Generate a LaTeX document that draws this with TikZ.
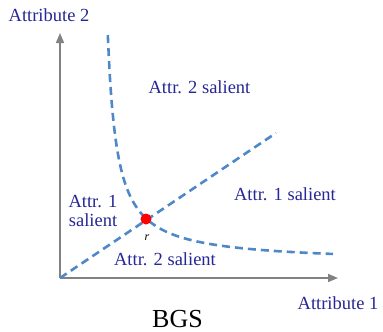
\documentclass[tikz,border=0pt]{standalone}
\usepackage{fontspec}
\setmainfont{Liberation Serif}
\usetikzlibrary{arrows.meta}
\definecolor{txtblue}{RGB}{38,38,150}
\definecolor{dashblue}{RGB}{78,136,200}
\definecolor{axisgray}{RGB}{130,130,130}
\tikzset{
  lbl/.style={text=txtblue, font=\fontsize{18.5}{19}\selectfont, inner sep=0pt, align=center},
  axisline/.style={draw=axisgray, line width=1.5pt, -{Triangle[length=10pt,width=8pt]}},
  dashline/.style={draw=dashblue, line width=2.6pt, dash pattern=on 8pt off 5pt},
}
\begin{document}
\begin{tikzpicture}[x=1pt,y=-1pt]
\useasboundingbox (0,0) rectangle (383,332);
\coordinate (O) at (60,278);
\coordinate (ytip) at (60,33);
\coordinate (xtip) at (338,278);
\coordinate (dend) at (276,133);
\draw[axisline] (O) -- (ytip);
\draw[axisline] (O) -- (xtip);
\draw[dashline] plot[domain=47.8:273, samples=120, smooth] ({60+\x},{278-15-2120/(\x-38.5)});
\draw[dashline] (O) -- (dend);
\node[circle, fill=red, minimum size=11pt, inner sep=0pt] (r) at (146,219) {};
\node[font=\itshape\fontsize{12}{13}\selectfont, inner sep=0pt] (rl) at (147,238) {r};
\node[lbl] (a2) at (49,15) {Attribute 2};
\node[lbl] (a1) at (338,303) {Attribute 1};
\node[lbl] (s2top) at (199.5,87.5) {Attr. 2 salient};
\node[lbl] (s1right) at (285,194) {Attr. 1 salient};
\node[lbl] (s1left) at (93,211) {Attr. 1\\salient};
\node[lbl] (s2bot) at (165,259) {Attr. 2 salient};
\node[font=\fontsize{26}{28}\selectfont, inner sep=0pt, anchor=base] (bgs) at (177.5,327.5) {BGS};
\end{tikzpicture}
\end{document}
